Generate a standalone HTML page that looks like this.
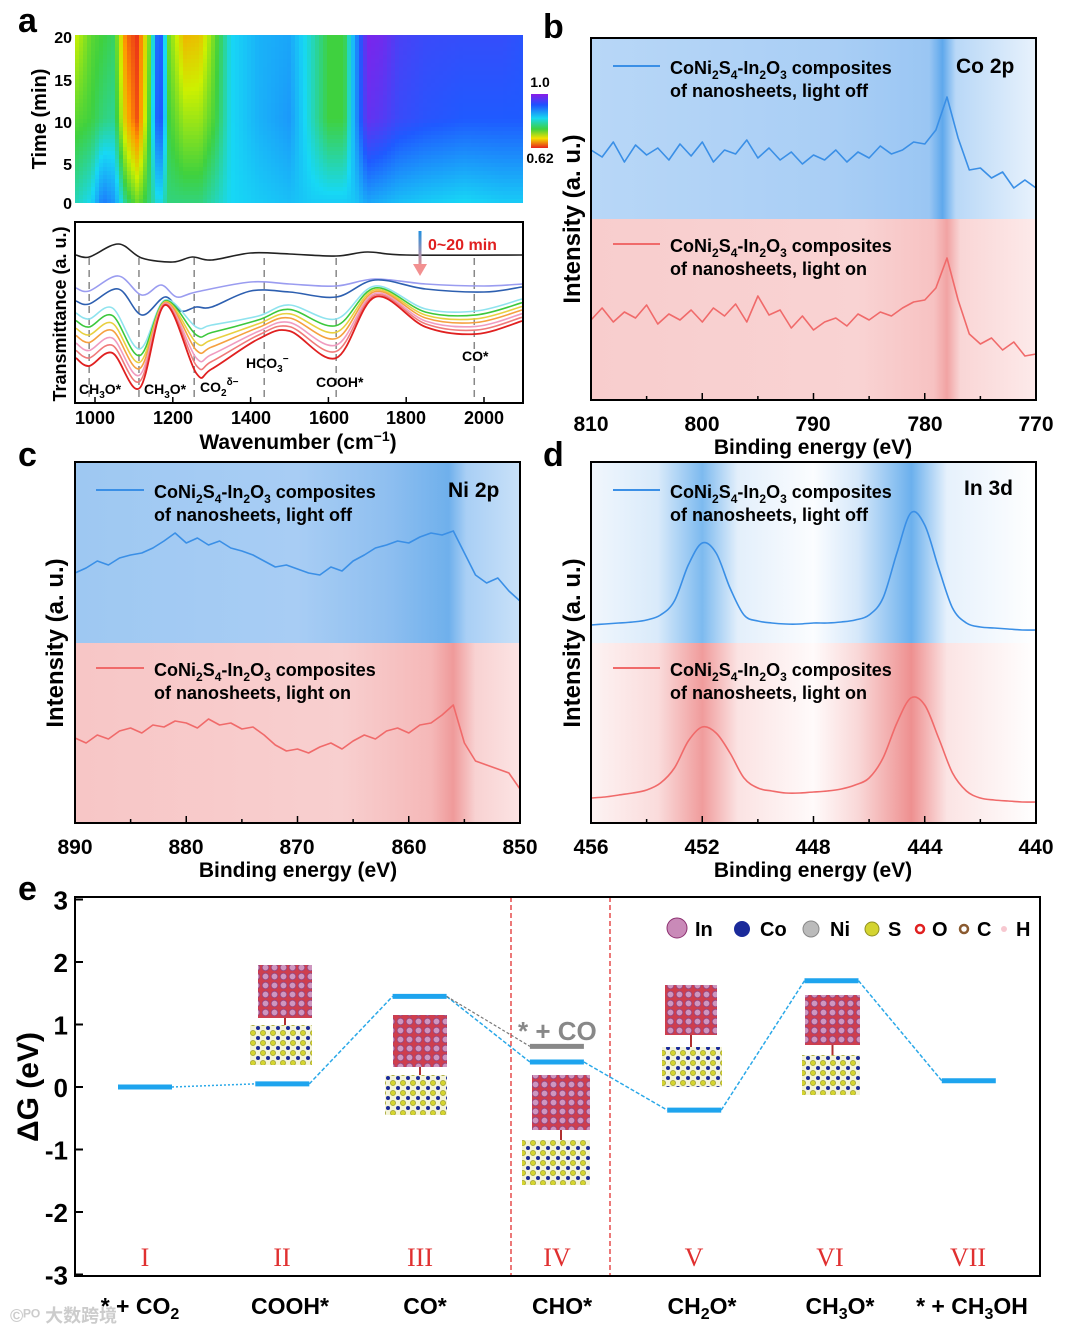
<!DOCTYPE html>
<html><head><meta charset="utf-8"><style>
body{margin:0;background:#fff;}
svg{display:block;font-family:"Liberation Sans",Arial,sans-serif;font-weight:bold;}
</style></head><body>
<svg id="fig" width="1065" height="1333" viewBox="0 0 1065 1333">
<defs>
<linearGradient id="bTop" x1="0" x2="1" y1="0" y2="0">
<stop offset="0" stop-color="#b8d7f7"/><stop offset="0.55" stop-color="#a9cef5"/><stop offset="0.76" stop-color="#9ac6f3"/><stop offset="0.79" stop-color="#5fa8ec"/><stop offset="0.82" stop-color="#b9d8f7"/><stop offset="1" stop-color="#e8f2fc"/></linearGradient>
<linearGradient id="bBot" x1="0" x2="1" y1="0" y2="0">
<stop offset="0" stop-color="#f8cdcd"/><stop offset="0.6" stop-color="#f9d3d3"/><stop offset="0.77" stop-color="#f7c2c2"/><stop offset="0.8" stop-color="#f1a3a3"/><stop offset="0.83" stop-color="#f9d6d6"/><stop offset="1" stop-color="#fdeaea"/></linearGradient>
<linearGradient id="cTop" x1="0" x2="1" y1="0" y2="0">
<stop offset="0" stop-color="#9ec8f2"/><stop offset="0.5" stop-color="#a8cdf4"/><stop offset="0.7" stop-color="#8fbff0"/><stop offset="0.84" stop-color="#6fb0ec"/><stop offset="0.88" stop-color="#a9cff5"/><stop offset="1" stop-color="#c9e1f8"/></linearGradient>
<linearGradient id="cBot" x1="0" x2="1" y1="0" y2="0">
<stop offset="0" stop-color="#f7c6c6"/><stop offset="0.6" stop-color="#f8cfcf"/><stop offset="0.8" stop-color="#f5b8b8"/><stop offset="0.85" stop-color="#ef9a9a"/><stop offset="0.9" stop-color="#f8d2d2"/><stop offset="1" stop-color="#fce4e4"/></linearGradient>
<linearGradient id="dTop" x1="0" x2="1" y1="0" y2="0">
<stop offset="0" stop-color="#f1f7fd"/><stop offset="0.15" stop-color="#d9eafa"/><stop offset="0.25" stop-color="#7dbaef"/><stop offset="0.33" stop-color="#e3effb"/><stop offset="0.5" stop-color="#fbfdff"/><stop offset="0.6" stop-color="#d6e8fa"/><stop offset="0.72" stop-color="#6bb0ed"/><stop offset="0.8" stop-color="#e6f1fc"/><stop offset="1" stop-color="#ffffff"/></linearGradient>
<linearGradient id="dBot" x1="0" x2="1" y1="0" y2="0">
<stop offset="0" stop-color="#fdf3f3"/><stop offset="0.15" stop-color="#fadcdc"/><stop offset="0.25" stop-color="#f09c9c"/><stop offset="0.33" stop-color="#fbe3e3"/><stop offset="0.5" stop-color="#fffafa"/><stop offset="0.6" stop-color="#f9d8d8"/><stop offset="0.72" stop-color="#ee9090"/><stop offset="0.8" stop-color="#fbe4e4"/><stop offset="1" stop-color="#ffffff"/></linearGradient>
<linearGradient id="cbar" x1="0" x2="0" y1="0" y2="1">
<stop offset="0" stop-color="#8a1ce8"/><stop offset="0.2" stop-color="#1f50ff"/><stop offset="0.45" stop-color="#17d8f0"/><stop offset="0.65" stop-color="#3fd13f"/><stop offset="0.82" stop-color="#f4e000"/><stop offset="1" stop-color="#e8231c"/></linearGradient>
<linearGradient id="arrowG" gradientUnits="userSpaceOnUse" x1="0" x2="0" y1="231" y2="268"><stop offset="0" stop-color="#1f8fe0"/><stop offset="1" stop-color="#f29090"/></linearGradient>
<pattern id="inPat" width="9" height="9" patternUnits="userSpaceOnUse"><rect width="9" height="9" fill="#c8283a"/><circle cx="4.5" cy="4.5" r="3.3" fill="#c98ab8" stroke="#8c3070" stroke-width="0.8"/></pattern>
<pattern id="subPat" width="10" height="10" patternUnits="userSpaceOnUse"><rect width="10" height="10" fill="#f4f4d8"/><circle cx="3" cy="3" r="2.6" fill="#d4d430" stroke="#909020" stroke-width="0.6"/><circle cx="8" cy="8" r="2" fill="#1a2a9a"/></pattern>
</defs>

<text x="18" y="32" font-size="34">a</text>
<text x="543" y="38" font-size="34">b</text>
<text x="18" y="466" font-size="34">c</text>
<text x="543" y="466" font-size="34">d</text>
<text x="18" y="900" font-size="34">e</text>

<g id="heat"></g>
<g font-size="16" text-anchor="end">
<text x="72" y="209">0</text><text x="72" y="170">5</text><text x="72" y="128">10</text><text x="72" y="86">15</text><text x="72" y="43">20</text></g>
<text transform="translate(46,119) rotate(-90)" font-size="20" text-anchor="middle">Time (min)</text>
<rect x="531" y="94" width="17" height="54" fill="url(#cbar)"/>
<text x="540" y="87" font-size="14" text-anchor="middle">1.0</text>
<text x="540" y="163" font-size="14" text-anchor="middle">0.62</text>

<g id="aLines"></g>
<rect x="75" y="222" width="448" height="181" fill="none" stroke="#000" stroke-width="2"/>
<g font-size="14">
<text x="79" y="394">CH<tspan font-size="10" dy="4">3</tspan><tspan dy="-4">O*</tspan></text>
<text x="144" y="394">CH<tspan font-size="10" dy="4">3</tspan><tspan dy="-4">O*</tspan></text>
<text x="200" y="392">CO<tspan font-size="10" dy="4">2</tspan><tspan font-size="10" dy="-11">δ−</tspan></text>
<text x="246" y="368">HCO<tspan font-size="10" dy="4">3</tspan><tspan font-size="10" dy="-10">−</tspan></text>
<text x="316" y="387">COOH*</text>
<text x="462" y="361">CO*</text></g>
<line x1="420" y1="231" x2="420" y2="266" stroke="url(#arrowG)" stroke-width="3"/>
<polygon points="413,264 427,264 420,276" fill="#f29090"/>
<text x="428" y="250" font-size="16" fill="#e02020">0~20 min</text>
<g font-size="18" text-anchor="middle">
<text x="95" y="424">1000</text><text x="173" y="424">1200</text><text x="251" y="424">1400</text><text x="329" y="424">1600</text><text x="406" y="424">1800</text><text x="484" y="424">2000</text></g>
<text x="298" y="449" font-size="21" text-anchor="middle">Wavenumber (cm<tspan font-size="14" dy="-8">−1</tspan><tspan dy="8">)</tspan></text>
<text transform="translate(66,314) rotate(-90)" font-size="18" text-anchor="middle">Transmittance (a. u.)</text>

<rect x="591" y="38" width="445" height="181" fill="url(#bTop)"/>
<rect x="591" y="219" width="445" height="181" fill="url(#bBot)"/>
<g id="bLines"></g>
<rect x="591" y="38" width="445" height="362" fill="none" stroke="#000" stroke-width="2"/>
<line x1="613" y1="66" x2="660" y2="66" stroke="#3a8fe6" stroke-width="2"/>
<text x="670" y="74" font-size="18">CoNi<tspan font-size="12" dy="5">2</tspan><tspan dy="-5">S</tspan><tspan font-size="12" dy="5">4</tspan><tspan dy="-5">-In</tspan><tspan font-size="12" dy="5">2</tspan><tspan dy="-5">O</tspan><tspan font-size="12" dy="5">3</tspan><tspan dy="-5"> composites</tspan></text>
<text x="670" y="97" font-size="18">of nanosheets, light off</text>
<line x1="613" y1="244" x2="660" y2="244" stroke="#f06a6a" stroke-width="2"/>
<text x="670" y="252" font-size="18">CoNi<tspan font-size="12" dy="5">2</tspan><tspan dy="-5">S</tspan><tspan font-size="12" dy="5">4</tspan><tspan dy="-5">-In</tspan><tspan font-size="12" dy="5">2</tspan><tspan dy="-5">O</tspan><tspan font-size="12" dy="5">3</tspan><tspan dy="-5"> composites</tspan></text>
<text x="670" y="275" font-size="18">of  nanosheets, light on</text>
<text x="956" y="73" font-size="21">Co 2p</text>
<g font-size="21" text-anchor="middle">
<text x="591" y="431">810</text><text x="702" y="431">800</text><text x="813" y="431">790</text><text x="925" y="431">780</text><text x="1036" y="431">770</text></g>
<text x="813" y="454" font-size="21" text-anchor="middle">Binding energy (eV)</text>
<text transform="translate(580,219) rotate(-90)" font-size="24" text-anchor="middle">Intensity (a. u.)</text>

<rect x="75" y="462" width="445" height="181" fill="url(#cTop)"/>
<rect x="75" y="643" width="445" height="180" fill="url(#cBot)"/>
<g id="cLines"></g>
<rect x="75" y="462" width="445" height="361" fill="none" stroke="#000" stroke-width="2"/>
<line x1="96" y1="490" x2="144" y2="490" stroke="#3a8fe6" stroke-width="2"/>
<text x="154" y="498" font-size="18">CoNi<tspan font-size="12" dy="5">2</tspan><tspan dy="-5">S</tspan><tspan font-size="12" dy="5">4</tspan><tspan dy="-5">-In</tspan><tspan font-size="12" dy="5">2</tspan><tspan dy="-5">O</tspan><tspan font-size="12" dy="5">3</tspan><tspan dy="-5"> composites</tspan></text>
<text x="154" y="521" font-size="18">of nanosheets, light off</text>
<line x1="96" y1="668" x2="144" y2="668" stroke="#f06a6a" stroke-width="2"/>
<text x="154" y="676" font-size="18">CoNi<tspan font-size="12" dy="5">2</tspan><tspan dy="-5">S</tspan><tspan font-size="12" dy="5">4</tspan><tspan dy="-5">-In</tspan><tspan font-size="12" dy="5">2</tspan><tspan dy="-5">O</tspan><tspan font-size="12" dy="5">3</tspan><tspan dy="-5"> composites</tspan></text>
<text x="154" y="699" font-size="18">of  nanosheets, light on</text>
<text x="448" y="497" font-size="21">Ni 2p</text>
<g font-size="21" text-anchor="middle">
<text x="75" y="854">890</text><text x="186" y="854">880</text><text x="297" y="854">870</text><text x="409" y="854">860</text><text x="520" y="854">850</text></g>
<text x="298" y="877" font-size="21" text-anchor="middle">Binding energy (eV)</text>
<text transform="translate(63,643) rotate(-90)" font-size="24" text-anchor="middle">Intensity (a. u.)</text>

<rect x="591" y="462" width="445" height="181" fill="url(#dTop)"/>
<rect x="591" y="643" width="445" height="180" fill="url(#dBot)"/>
<g id="dLines"></g>
<rect x="591" y="462" width="445" height="361" fill="none" stroke="#000" stroke-width="2"/>
<line x1="613" y1="490" x2="660" y2="490" stroke="#3a8fe6" stroke-width="2"/>
<text x="670" y="498" font-size="18">CoNi<tspan font-size="12" dy="5">2</tspan><tspan dy="-5">S</tspan><tspan font-size="12" dy="5">4</tspan><tspan dy="-5">-In</tspan><tspan font-size="12" dy="5">2</tspan><tspan dy="-5">O</tspan><tspan font-size="12" dy="5">3</tspan><tspan dy="-5"> composites</tspan></text>
<text x="670" y="521" font-size="18">of nanosheets, light off</text>
<line x1="613" y1="668" x2="660" y2="668" stroke="#f06a6a" stroke-width="2"/>
<text x="670" y="676" font-size="18">CoNi<tspan font-size="12" dy="5">2</tspan><tspan dy="-5">S</tspan><tspan font-size="12" dy="5">4</tspan><tspan dy="-5">-In</tspan><tspan font-size="12" dy="5">2</tspan><tspan dy="-5">O</tspan><tspan font-size="12" dy="5">3</tspan><tspan dy="-5"> composites</tspan></text>
<text x="670" y="699" font-size="18">of  nanosheets, light on</text>
<text x="964" y="495" font-size="21">In 3d</text>
<g font-size="21" text-anchor="middle">
<text x="591" y="854">456</text><text x="702" y="854">452</text><text x="813" y="854">448</text><text x="925" y="854">444</text><text x="1036" y="854">440</text></g>
<text x="813" y="877" font-size="21" text-anchor="middle">Binding energy (eV)</text>
<text transform="translate(580,643) rotate(-90)" font-size="24" text-anchor="middle">Intensity (a. u.)</text>

<g id="ePlot"></g>
<rect x="75" y="897" width="965" height="379" fill="none" stroke="#000" stroke-width="2"/>
<text transform="translate(38,1087) rotate(-90)" font-size="30" text-anchor="middle">ΔG (eV)</text>
<text x="518" y="1040" font-size="26" fill="#888">* + CO</text>
<g font-size="20">
<circle cx="677" cy="928" r="10" fill="#c98ab8" stroke="#8c3070"/><text x="695" y="936">In</text>
<circle cx="742" cy="929" r="8" fill="#1a2a9a"/><text x="760" y="936">Co</text>
<circle cx="811" cy="929" r="8" fill="#bbb" stroke="#888"/><text x="830" y="936">Ni</text>
<circle cx="872" cy="929" r="7" fill="#d4d430" stroke="#909020"/><text x="888" y="936">S</text>
<circle cx="920" cy="929" r="4" fill="#fff" stroke="#e02020" stroke-width="2.5"/><text x="932" y="936">O</text>
<circle cx="964" cy="929" r="4" fill="#fff" stroke="#8a5a30" stroke-width="2.5"/><text x="977" y="936">C</text>
<circle cx="1004" cy="929" r="3" fill="#f7c8d0"/><text x="1016" y="936">H</text></g>
<g font-size="23" text-anchor="middle">
<text x="140" y="1314">* + CO<tspan font-size="16" dy="5">2</tspan></text>
<text x="290" y="1314">COOH*</text>
<text x="425" y="1314">CO*</text>
<text x="562" y="1314">CHO*</text>
<text x="702" y="1314">CH<tspan font-size="16" dy="5">2</tspan><tspan dy="-5">O*</tspan></text>
<text x="840" y="1314">CH<tspan font-size="16" dy="5">3</tspan><tspan dy="-5">O*</tspan></text>
<text x="972" y="1314">* + CH<tspan font-size="16" dy="5">3</tspan><tspan dy="-5">OH</tspan></text></g>
<g font-size="26" fill="#e03030" font-family="'Liberation Serif',serif" text-anchor="middle" style="font-weight:normal">
<text x="145" y="1266">I</text><text x="282" y="1266">II</text><text x="420" y="1266">III</text><text x="557" y="1266">IV</text><text x="694" y="1266">V</text><text x="830" y="1266">VI</text><text x="968" y="1266">VII</text></g>
<text x="10" y="1322" font-size="18" fill="#ccc" font-family="'Liberation Sans','Noto Sans CJK SC',sans-serif">©ᴾᴼ 大数跨境</text>
</svg>
<script>
const heatWn = [950,990,1020,1050,1080,1110,1140,1165,1190,1230,1270,1310,1350,1420,1500,1560,1600,1640,1670,1700,1740,1780,1850,1950,2050,2100];
const heatTimes = [20,10,0];
const heatT20 = [.3,.42,.45,.48,.1,.02,.4,.88,.4,.2,.22,.42,.6,.66,.68,.55,.45,.45,.7,.97,.95,.88,.85,.84,.84,.82];
const heatT10 = [.42,.45,.5,.52,.2,.05,.45,.88,.45,.35,.35,.45,.6,.66,.7,.55,.45,.45,.7,.93,.9,.85,.82,.8,.8,.8];
const heatT0  = [.55,.6,.75,.7,.5,.4,.5,.6,.5,.5,.5,.55,.6,.62,.64,.62,.62,.62,.63,.68,.66,.64,.62,.6,.62,.62];

const blackWn = [950,985,1060,1120,1200,1250,1300,1400,1500,1620,1700,1800,2100];
const blackV  = [148,146,159,145,141,146,143,150,149,147,151,148,148];
const purpWn  = [950,985,1060,1120,1170,1210,1260,1400,1500,1620,1720,1850,2000,2100];
const purpV   = [115,112,127,108,118,106,111,121,119,117,124,119,117,119];
const blueWn  = [950,985,1060,1120,1180,1220,1260,1300,1400,1500,1620,1720,1850,2000,2100];
const blueV   = [102,99,114,88,106,92,96,96,112,111,106,123,114,111,116];
const redWn   = [950,985,1045,1115,1180,1260,1300,1420,1500,1620,1720,1850,1980,2100];
const redV    = [45,37,50,15,98,30,34,64,72,45,106,76,69,82];
const spread  = [45,47,45,39,5,46,44,23,26,39,11,18,23,22];
const midFrac = [1.0,0.83,0.66,0.5,0.33,0.17];
const midColors = ['#8fe3ee','#3cc83c','#e8d040','#f5a040','#f09cc0','#f07a7a'];
const dashWn = [985,1113,1255,1435,1620,1975];

const bE = [810,809,808,807,806,805,804,803,802,801,800,799,798,797,796,795,794,793,792,791,790,789,788,787,786,785,784,783,782,781,780,779,778,777,776,775,774,773,772,771,770];
const bOff = [250,243,258,238,255,245,252,240,256,244,258,238,250,246,260,242,252,240,248,236,245,240,250,238,248,242,254,246,250,258,256,270,303,262,230,232,222,228,212,220,212];
const bOn  = [80,92,78,88,82,95,76,86,80,90,78,92,84,96,78,104,85,90,72,84,70,78,82,74,86,80,88,84,92,98,100,112,142,100,66,56,62,50,58,44,46];
const cE = [890,889,888,887,886,885,884,883,882,881,880,879,878,877,876,875,874,873,872,871,870,869,868,867,866,865,864,863,862,861,860,859,858,857,856,855,854,853,852,851,850];
const cOff = [250,255,262,258,265,268,270,275,282,290,280,285,278,282,275,272,268,262,256,258,254,250,248,256,252,262,268,275,278,282,280,286,290,288,292,270,248,240,245,232,222];
const cOn  = [85,80,88,84,92,95,90,98,96,102,100,95,104,98,100,94,96,88,78,72,74,70,76,80,74,82,88,84,92,95,90,98,100,108,118,80,62,58,54,50,34];
const dE = [456,455.5,455,454.5,454,453.5,453,452.5,452,451.5,451,450.5,450,449.5,449,448.5,448,447.5,447,446.5,446,445.5,445,444.5,444,443.5,443,442.5,442,441.5,441,440.5,440];
const dOff = [198,199,200,201,203,208,222,258,280,270,235,208,202,200,199,199,200,200,201,203,208,225,270,310,298,255,215,200,196,195,194,193,193];
const dOn  = [25,26,28,30,33,40,55,82,96,90,70,45,35,32,30,30,31,32,34,38,45,65,100,125,118,85,50,32,25,23,22,21,21];
const steps = ['I','II','III','IV','V','VI','VII'];
const dG = [0,0.05,1.45,0.4,-0.37,1.7,0.1];
const coLevel = 0.65;
const yTicksE = [3,2,1,0,-1,-2,-3];

const NS = 'http://www.w3.org/2000/svg';
function mk(tag, parent){const e=document.createElementNS(NS,tag);parent.appendChild(e);return e;}
function smooth(pts){let d='M'+pts[0][0].toFixed(1)+','+pts[0][1].toFixed(1);
 for(let i=0;i<pts.length-1;i++){const p0=pts[Math.max(0,i-1)],p1=pts[i],p2=pts[i+1],p3=pts[Math.min(pts.length-1,i+2)];
 const c1=[p1[0]+(p2[0]-p0[0])/6,p1[1]+(p2[1]-p0[1])/6],c2=[p2[0]-(p3[0]-p1[0])/6,p2[1]-(p3[1]-p1[1])/6];
 d+='C'+c1[0].toFixed(1)+','+c1[1].toFixed(1)+' '+c2[0].toFixed(1)+','+c2[1].toFixed(1)+' '+p2[0].toFixed(1)+','+p2[1].toFixed(1);}return d;}
function poly(pts){return 'M'+pts.map(p=>p[0].toFixed(1)+','+p[1].toFixed(1)).join('L');}
function interp(xs,ys,x){if(x<=xs[0])return ys[0];for(let i=0;i<xs.length-1;i++){if(x<=xs[i+1]){const f=(x-xs[i])/(xs[i+1]-xs[i]);return ys[i]+f*(ys[i+1]-ys[i]);}}return ys[ys.length-1];}

const xA = w => 95 + (w-1000)*0.389;
const yA = v => 403 - v;
const xB = e => 591 + (810-e)*11.125;
const yB = v => 400 - v;
const xC = e => 75 + (890-e)*11.125;
const yC = v => 823 - v;
const xD = e => 591 + (456-e)*27.81;
const yD = v => 823 - v;
const yE = g => 1087 - g*62.5;
const xE = i => 145 + i*137.3;

const cmS=[0,.15,.3,.45,.6,.8,1];
const cmC=[[232,35,28],[255,154,0],[205,240,0],[63,209,63],[23,216,245],[31,90,255],[138,28,232]];
function cmap(v){v=Math.max(0,Math.min(1,v));for(let i=0;i<cmS.length-1;i++){if(v<=cmS[i+1]){const f=(v-cmS[i])/(cmS[i+1]-cmS[i]);const c=cmC[i].map((a,k)=>Math.round(a+f*(cmC[i+1][k]-a)));return 'rgb('+c.join(',')+')';}}return 'rgb(138,28,232)';}

const heat=document.getElementById('heat');
const heatRows=[heatT20,heatT10,heatT0];
for(let px=75;px<523;px+=4){
 const w=1000+(px+2-95)/0.389;
 const colV=heatRows.map(r=>interp(heatWn,r,w));
 for(let py=35;py<203;py+=4){
  const t=(203-(py+2))/8.4;
  const v=interp([0,10,20],[colV[2],colV[1],colV[0]],t);
  const r=mk('rect',heat);
  
  
  r.setAttribute('x',px);r.setAttribute('y',py);r.setAttribute('width',Math.min(4.6,523-px));r.setAttribute('height',Math.min(4.6,203-py));r.setAttribute('fill',cmap(v));
 }
}

const aG=document.getElementById('aLines');
dashWn.forEach(w=>{const l=mk('line',aG);
 
 
 l.setAttribute('x1',xA(w));l.setAttribute('x2',xA(w));l.setAttribute('y1',258);l.setAttribute('y2',402);l.setAttribute('stroke','#888');l.setAttribute('stroke-width',1.5);l.setAttribute('stroke-dasharray','7,5');});
function drawA(wn,vals,color,name,sw){const p=mk('path',aG);
 
 
 p.setAttribute('d',smooth(wn.map((w,i)=>[Math.max(76,Math.min(522,xA(w))),yA(vals[i])])));p.setAttribute('fill','none');p.setAttribute('stroke',color);p.setAttribute('stroke-width',sw||1.6);}
drawA(blackWn,blackV,'#222','ftir-curve-initial');
drawA(purpWn,purpV,'#9a9cf0','ftir-curve-purple');
drawA(blueWn,blueV,'#2d5fb0','ftir-curve-blue');
midFrac.forEach((f,k)=>{drawA(redWn,redV.map((v,i)=>v+f*spread[i]),midColors[k],'ftir-curve-mid');});
drawA(redWn,redV,'#e02020','ftir-curve-final',1.8);
[1000,1200,1400,1600,1800,2000].forEach(w=>{const l=mk('line',aG);
 
 
 l.setAttribute('x1',xA(w));l.setAttribute('x2',xA(w));l.setAttribute('y1',403);l.setAttribute('y2',397);l.setAttribute('stroke','#000');l.setAttribute('stroke-width',1.5);});

function drawXPS(gid,E,vals,xs,ys,color,name){const g=document.getElementById(gid);const p=mk('path',g);
 
 
 p.setAttribute('d',poly(E.map((e,i)=>[xs(e),ys(vals[i])])));p.setAttribute('fill','none');p.setAttribute('stroke',color);p.setAttribute('stroke-width',1.6);p.setAttribute('stroke-linejoin','round');}
function drawXPSs(gid,E,vals,xs,ys,color,name){const g=document.getElementById(gid);const p=mk('path',g);
 
 
 p.setAttribute('d',smooth(E.map((e,i)=>[xs(e),ys(vals[i])])));p.setAttribute('fill','none');p.setAttribute('stroke',color);p.setAttribute('stroke-width',1.6);}
function ticks(gid,from,to,step,xs,yb,major){const g=document.getElementById(gid);
 for(let e=from;e>=to-1e-9;e-=step){const l=mk('line',g);
  
  
  const isM=Math.abs(((from-e)/major)-Math.round((from-e)/major))<1e-6;
  l.setAttribute('x1',xs(e));l.setAttribute('x2',xs(e));l.setAttribute('y1',yb);l.setAttribute('y2',yb-(isM?7:4));l.setAttribute('stroke','#000');l.setAttribute('stroke-width',1.5);}}
drawXPS('bLines',bE,bOff,xB,yB,'#3a8fe6','co2p-light-off');
drawXPS('bLines',bE,bOn,xB,yB,'#f06a6a','co2p-light-on');
ticks('bLines',810,770,5,xB,400,10);
drawXPS('cLines',cE,cOff,xC,yC,'#3a8fe6','ni2p-light-off');
drawXPS('cLines',cE,cOn,xC,yC,'#f06a6a','ni2p-light-on');
ticks('cLines',890,850,5,xC,823,10);
drawXPSs('dLines',dE,dOff,xD,yD,'#3a8fe6','in3d-light-off');
drawXPSs('dLines',dE,dOn,xD,yD,'#f06a6a','in3d-light-on');
ticks('dLines',456,440,2,xD,823,4);

const eG=document.getElementById('ePlot');
yTicksE.forEach(g=>{const t=mk('text',eG);
 
 
 t.setAttribute('x',68);t.setAttribute('y',yE(g)+10);t.setAttribute('font-size',26);t.setAttribute('text-anchor','end');t.textContent=g;
 const l=mk('line',eG);
 
 
 l.setAttribute('x1',75);l.setAttribute('x2',83);l.setAttribute('y1',yE(g));l.setAttribute('y2',yE(g));l.setAttribute('stroke','#000');l.setAttribute('stroke-width',2);});
[511,610].forEach(x=>{const l=mk('line',eG);
 
 
 l.setAttribute('x1',x);l.setAttribute('x2',x);l.setAttribute('y1',897);l.setAttribute('y2',1276);l.setAttribute('stroke','#e02020');l.setAttribute('stroke-width',1.2);l.setAttribute('stroke-dasharray','5,3');});
const structs=[[1,258,965,54,53,250,1025,62,40],[2,393,1015,54,52,385,1075,62,40],[3,532,1075,58,55,522,1140,68,45],[4,665,985,52,50,662,1047,60,40],[5,805,995,55,50,802,1055,58,40]];
structs.forEach(s=>{
 const top=mk('rect',eG);
 
 
 top.setAttribute('x',s[1]);top.setAttribute('y',s[2]);top.setAttribute('width',s[3]);top.setAttribute('height',s[4]);top.setAttribute('fill','url(#inPat)');top.setAttribute('opacity',0.9);
 const bot=mk('rect',eG);
 
 
 bot.setAttribute('x',s[5]);bot.setAttribute('y',s[6]);bot.setAttribute('width',s[7]);bot.setAttribute('height',s[8]);bot.setAttribute('fill','url(#subPat)');
 const bond=mk('line',eG);
 
 
 bond.setAttribute('x1',s[1]+s[3]/2);bond.setAttribute('x2',s[1]+s[3]/2);bond.setAttribute('y1',s[2]+s[4]);bond.setAttribute('y2',s[6]);bond.setAttribute('stroke','#b03030');bond.setAttribute('stroke-width',2);
});
for(let i=0;i<dG.length-1;i++){const l=mk('line',eG);
 
 
 l.setAttribute('x1',xE(i)+27);l.setAttribute('y1',yE(dG[i]));l.setAttribute('x2',xE(i+1)-27);l.setAttribute('y2',yE(dG[i+1]));l.setAttribute('stroke','#2aa8e8');l.setAttribute('stroke-width',1.5);l.setAttribute('stroke-dasharray',i===0?'2,2':'4,2');}
const gc=mk('line',eG);


gc.setAttribute('x1',xE(2)+27);gc.setAttribute('y1',yE(dG[2]));gc.setAttribute('x2',xE(3)-27);gc.setAttribute('y2',yE(coLevel));gc.setAttribute('stroke','#777');gc.setAttribute('stroke-width',1.2);gc.setAttribute('stroke-dasharray','3,2');
const gl=mk('line',eG);


gl.setAttribute('x1',xE(3)-27);gl.setAttribute('x2',xE(3)+27);gl.setAttribute('y1',yE(coLevel));gl.setAttribute('y2',yE(coLevel));gl.setAttribute('stroke','#888');gl.setAttribute('stroke-width',5);
dG.forEach((g,i)=>{const l=mk('line',eG);
 
 
 l.setAttribute('x1',xE(i)-27);l.setAttribute('x2',xE(i)+27);l.setAttribute('y1',yE(g));l.setAttribute('y2',yE(g));l.setAttribute('stroke','#1ea4ee');l.setAttribute('stroke-width',5);});
</script>
</body></html>
